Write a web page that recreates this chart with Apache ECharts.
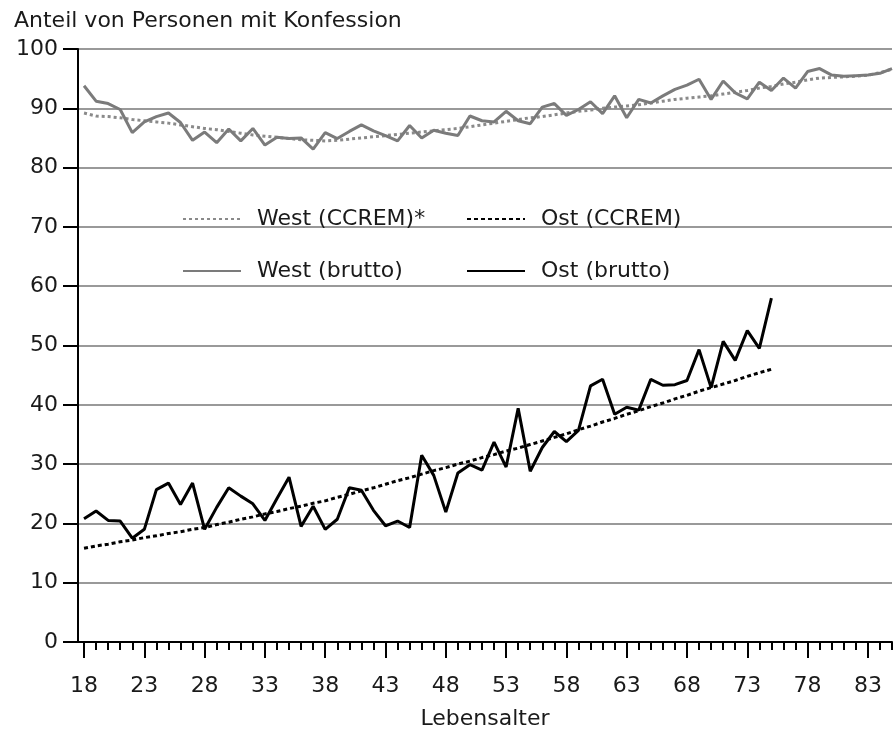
<!DOCTYPE html>
<html>
<head>
<meta charset="utf-8">
<script src="https://cdn.jsdelivr.net/npm/echarts@6/dist/echarts.min.js"></script>
<style>
html,body{margin:0;padding:0;background:#fff;}
#chart{width:893px;height:735px;}
</style>
</head>
<body>
<div id="chart"></div>
<script>
// Ages (Lebensalter)
var agesWest = [18,19,20,21,22,23,24,25,26,27,28,29,30,31,32,33,34,35,36,37,38,39,40,41,42,43,44,45,46,47,48,49,50,51,52,53,54,55,56,57,58,59,60,61,62,63,64,65,66,67,68,69,70,71,72,73,74,75,76,77,78,79,80,81,82,83,84,85];
var agesOst = [18,19,20,21,22,23,24,25,26,27,28,29,30,31,32,33,34,35,36,37,38,39,40,41,42,43,44,45,46,47,48,49,50,51,52,53,54,55,56,57,58,59,60,61,62,63,64,65,66,67,68,69,70,71,72,73,74,75];

var westBrutto = [93.8,91.2,90.8,89.8,85.9,87.7,88.6,89.2,87.6,84.6,86.0,84.2,86.5,84.5,86.6,83.8,85.1,84.9,85.0,83.1,85.9,84.9,86.1,87.2,86.2,85.4,84.5,87.1,85.0,86.3,85.8,85.4,88.7,87.9,87.7,89.5,87.9,87.4,90.2,90.8,88.8,89.8,91.1,89.1,92.1,88.4,91.5,90.9,92.1,93.2,93.9,94.9,91.5,94.6,92.6,91.6,94.4,93.0,95.1,93.4,96.2,96.7,95.6,95.4,95.5,95.6,95.9,96.7];
var westCcrem = [89.2,88.7,88.6,88.4,88.1,87.9,87.7,87.5,87.2,86.9,86.6,86.4,86.1,85.8,85.5,85.3,85.1,84.9,84.7,84.6,84.5,84.6,84.8,85.0,85.2,85.4,85.6,85.8,86.0,86.2,86.4,86.6,86.9,87.2,87.5,87.8,88.1,88.4,88.6,88.9,89.2,89.5,89.7,90.0,90.2,90.4,90.6,90.9,91.2,91.5,91.7,91.9,92.1,92.4,92.7,93.0,93.4,93.7,94.1,94.4,94.8,95.1,95.2,95.3,95.4,95.6,96.0,96.6];
var ostBrutto = [20.8,22.1,20.5,20.4,17.5,19.0,25.7,26.8,23.2,26.8,19.0,22.7,26.0,24.6,23.3,20.5,24.2,27.8,19.5,22.9,19.0,20.7,26.0,25.6,22.2,19.6,20.4,19.3,31.5,28.1,21.9,28.5,29.9,29.0,33.7,29.5,39.4,28.8,32.8,35.5,33.8,35.7,43.2,44.3,38.4,39.6,39.1,44.3,43.3,43.4,44.1,49.3,42.9,50.7,47.5,52.5,49.5,58.0];
var ostCcrem = [15.8,16.2,16.5,16.9,17.2,17.6,17.9,18.3,18.6,19.0,19.3,19.8,20.2,20.7,21.1,21.6,22.0,22.5,22.9,23.4,23.8,24.4,24.9,25.5,26.0,26.6,27.2,27.7,28.3,28.9,29.4,30.0,30.5,31.1,31.6,32.2,32.7,33.3,33.9,34.5,35.1,35.8,36.4,37.1,37.7,38.4,39.0,39.7,40.3,41.0,41.6,42.3,42.9,43.5,44.1,44.8,45.4,46.0];

var minorTicks = [18,19,20,21,22,23,24,25,26,27,28,29,30,31,32,33,34,35,36,37,38,39,40,41,42,43,44,45,46,47,48,49,50,51,52,53,54,55,56,57,58,59,60,61,62,63,64,65,66,67,68,69,70,71,72,73,74,75,76,77,78,79,80,81,82,83,84,85];
var majorTicks = [18,23,28,33,38,43,48,53,58,63,68,73,78,83];

var yTitle = 'Anteil von Personen mit Konfession';
var xTitle = 'Lebensalter';
var names = ['West (CCREM)*','Ost (CCREM)','West (brutto)','Ost (brutto)'];

function pairs(xs, ys){ return xs.map(function(x,i){ return [x, ys[i]]; }); }

var FONT = 'DejaVu Sans, sans-serif';
var FS = 22;
var TXT = '#1a1a1a';

var legendBase = {orient:'vertical', top:203, itemWidth:58, itemHeight:22, itemGap:30,
  itemStyle:{opacity:0}, 
  textStyle:{fontFamily:FONT, fontSize:FS, color:TXT, padding:[0,0,0,11]}};

var chart = echarts.init(document.getElementById('chart'), null, {renderer:'canvas'});
chart.setOption({
  animation:false,
  backgroundColor:'#fff',
  textStyle:{fontFamily:FONT},
  title:{text:yTitle, left:9, top:5, textStyle:{fontFamily:FONT, fontSize:FS, fontWeight:'normal', color:TXT}},
  grid:{left:78, right:1, top:49, bottom:89, containLabel:false},
  legend:[
    Object.assign({}, legendBase, {left:177, data:[names[0], names[2]]}),
    Object.assign({}, legendBase, {left:461, data:[names[1], names[3]]})
  ],
  xAxis:[
    {type:'value', min:17.5, max:85, position:'bottom',
     axisLine:{show:true, onZero:false, lineStyle:{color:'#000', width:2}},
     axisTick:{show:true, customValues:minorTicks, length:8, lineStyle:{color:'#000', width:2}},
     axisLabel:{show:false}, splitLine:{show:false}},
    {type:'value', min:17.5, max:85, position:'bottom',
     axisLine:{show:false, onZero:false},
     axisTick:{show:true, customValues:majorTicks, length:16, lineStyle:{color:'#000', width:2}},
     axisLabel:{show:true, customValues:majorTicks, margin:33, fontFamily:FONT, fontSize:FS, color:TXT},
     splitLine:{show:false},
     name:xTitle, nameLocation:'middle', nameGap:66,
     nameTextStyle:{fontFamily:FONT, fontSize:FS, color:TXT}}
  ],
  yAxis:{type:'value', min:0, max:100, interval:10,
    axisLine:{show:true, lineStyle:{color:'#000', width:2}},
    axisTick:{show:true, inside:false, length:15, lineStyle:{color:'#000', width:2}},
    axisLabel:{margin:20, fontFamily:FONT, fontSize:FS, color:TXT},
    splitLine:{show:true, lineStyle:{color:'#999', width:2}}},
  series:[
    {name:names[0], type:'line', xAxisIndex:0, symbol:'none', data:pairs(agesWest, westCcrem),
     lineStyle:{color:'#8a8a8a', width:3, type:[3,3]}, itemStyle:{color:'#8a8a8a'}, z:3},
    {name:names[1], type:'line', xAxisIndex:0, symbol:'none', data:pairs(agesOst, ostCcrem),
     lineStyle:{color:'#000', width:3, type:[4,3]}, itemStyle:{color:'#000'}, z:3},
    {name:names[2], type:'line', xAxisIndex:0, symbol:'none', data:pairs(agesWest, westBrutto),
     lineStyle:{color:'#7b7b7b', width:3}, itemStyle:{color:'#7b7b7b'}, z:4},
    {name:names[3], type:'line', xAxisIndex:0, symbol:'none', data:pairs(agesOst, ostBrutto),
     lineStyle:{color:'#000', width:3}, itemStyle:{color:'#000'}, z:4}
  ]
});
</script>
</body>
</html>
